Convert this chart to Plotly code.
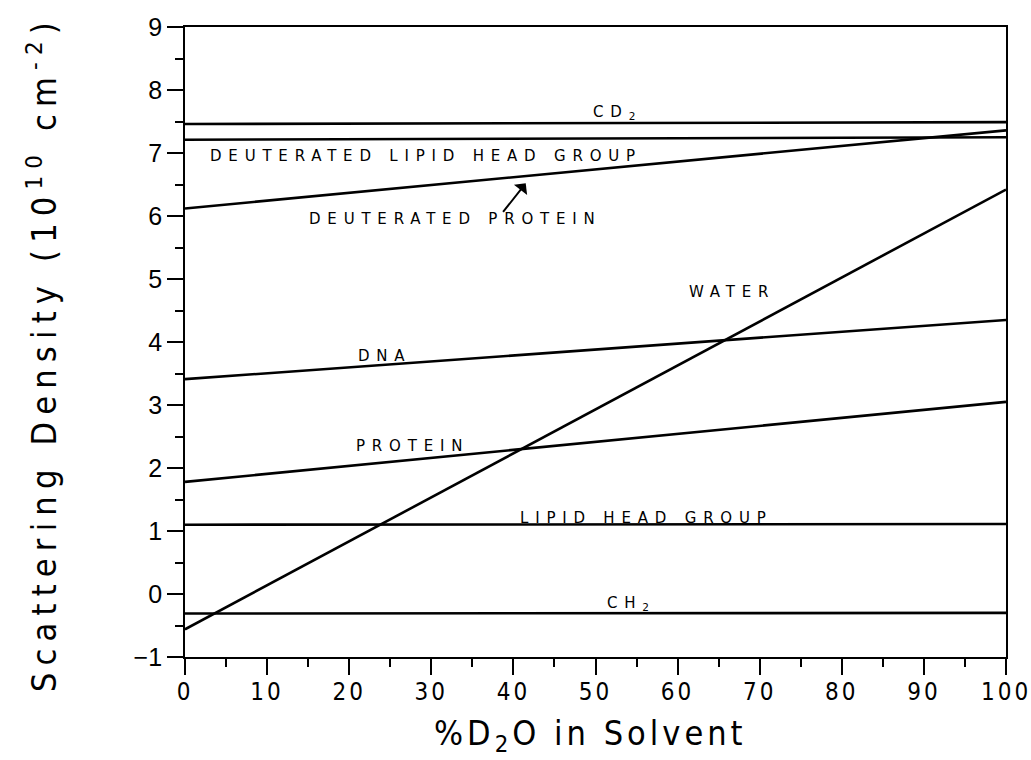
import plotly.graph_objects as go

# % D2O in the solvent (end points of each straight line)
d2o_pct = [0, 100]

# Scattering length densities (10^10 cm^-2) at 0 % and 100 % D2O
water = [-0.56, 6.42]
cd2 = [7.46, 7.49]
deut_lipid_head = [7.21, 7.25]
deut_protein = [6.12, 7.36]
dna = [3.41, 4.35]
protein = [1.78, 3.05]
lipid_head = [1.10, 1.11]
ch2 = [-0.31, -0.30]

series = [water, cd2, deut_lipid_head, deut_protein, dna, protein, lipid_head, ch2]

# Curve labels: text, x, y (data coordinates)
label_text = ["CD<sub>2</sub>", "DEUTERATED LIPID HEAD GROUP", "DEUTERATED PROTEIN",
              "WATER", "DNA", "PROTEIN", "LIPID HEAD GROUP", "CH<sub>2</sub>"]
label_x = [52.7, 29.4, 32.9, 66.6, 24.3, 27.7, 56.2, 54.4]
label_y = [7.65, 6.95, 5.95, 4.79, 3.78, 2.35, 1.21, -0.15]

# Pointer from the "DEUTERATED PROTEIN" label to its line
pointer_tip = (41.5, 6.52)
pointer_tail = (38.6, 6.04)

x_tick_vals = [0, 10, 20, 30, 40, 50, 60, 70, 80, 90, 100]
x_tick_labels = ["0", "10", "20", "30", "40", "50", "60", "70", "80", "90", "100"]
y_tick_vals = [-1, 0, 1, 2, 3, 4, 5, 6, 7, 8, 9]
y_tick_labels = ["\u22121", "0", "1", "2", "3", "4", "5", "6", "7", "8", "9"]

NARROW = "DejaVu Sans Condensed, Liberation Sans Narrow, DejaVu Sans, sans-serif"
LETTERING = "DejaVu Sans, Verdana, sans-serif"


def spaced(s, px, condensed=False):
    style = f"letter-spacing:{px}px"
    if condensed:
        style += ";font-stretch:condensed"
    return f'<span style="{style}">{s}</span>'


fig = go.Figure()
for ys in series:
    fig.add_trace(go.Scatter(x=d2o_pct, y=ys, mode="lines",
                             line=dict(color="black", width=2.6),
                             showlegend=False, hoverinfo="skip"))

for t, lx, ly in zip(label_text, label_x, label_y):
    fig.add_annotation(x=lx, y=ly, xref="x", yref="y", text=spaced(t, 6.8),
                       showarrow=False, xanchor="center", yanchor="middle",
                       font=dict(family=LETTERING, size=15, color="black"))

fig.add_annotation(x=pointer_tip[0], y=pointer_tip[1], ax=pointer_tail[0], ay=pointer_tail[1],
                   xref="x", yref="y", axref="x", ayref="y", text="",
                   showarrow=True, arrowhead=1, arrowsize=1.4, arrowwidth=2,
                   arrowcolor="black")

# Axis titles
fig.add_annotation(x=-0.174, y=0.481, xref="paper", yref="paper",
                   text=spaced("Scattering Density (10<sup>10</sup> cm<sup>-2</sup>)", 7.2, True),
                   textangle=-90, showarrow=False, xanchor="center", yanchor="middle",
                   font=dict(family=NARROW, size=34, color="black"))
fig.add_annotation(x=0.4936, y=-0.124, xref="paper", yref="paper",
                   text=spaced("%D<sub>2</sub>O in Solvent", 4, True),
                   showarrow=False, xanchor="center", yanchor="middle",
                   font=dict(family=NARROW, size=34, color="black"))

fig.update_xaxes(range=[0, 100], tickvals=x_tick_vals,
                 ticktext=[spaced(t, 3, True) for t in x_tick_labels],
                 ticks="outside", ticklen=16, tickwidth=1.5, tickcolor="black",
                 minor=dict(dtick=5, ticks="outside", ticklen=8, tickwidth=1.5, tickcolor="black"),
                 showline=True, linecolor="black", linewidth=1.8, mirror=True,
                 showgrid=False, zeroline=False, ticklabeloverflow="allow",
                 ticklabelstandoff=-4, automargin=False,
                 tickfont=dict(family=NARROW, size=24, color="black"))
fig.update_yaxes(range=[-1, 9], tickvals=y_tick_vals, ticktext=y_tick_labels,
                 ticks="outside", ticklen=16, tickwidth=1.5, tickcolor="black",
                 minor=dict(dtick=0.5, ticks="outside", ticklen=8, tickwidth=1.5, tickcolor="black"),
                 showline=True, linecolor="black", linewidth=1.8, mirror=True,
                 showgrid=False, zeroline=False, automargin=False,
                 tickfont=dict(family="Liberation Sans, Arial, sans-serif", size=25, color="black"))

fig.update_layout(width=1031, height=760,
                  margin=dict(l=185, r=25, t=27, b=103),
                  plot_bgcolor="white", paper_bgcolor="white")

fig.write_html("out.html")
